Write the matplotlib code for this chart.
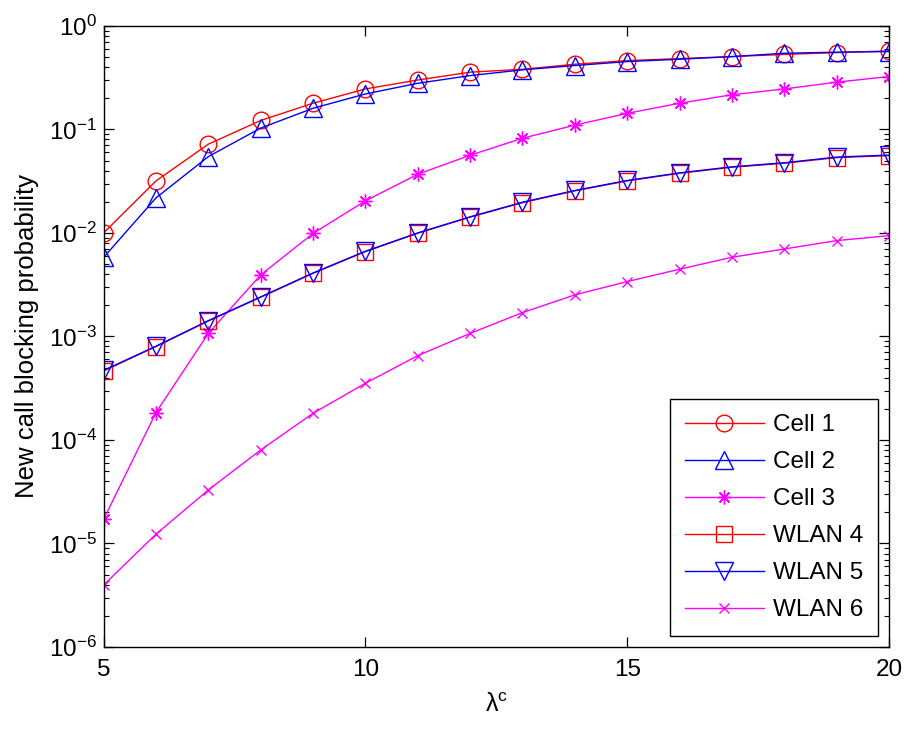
"""New call blocking probability vs. arrival rate for cells and WLANs."""

import matplotlib

matplotlib.use("Agg")
import matplotlib.pyplot as plt
import numpy as np
from matplotlib.ticker import FixedLocator, LogLocator, NullFormatter, NullLocator

plt.rcParams["font.family"] = ["Liberation Sans", "DejaVu Sans"]
plt.rcParams["mathtext.default"] = "regular"

lam = np.arange(5, 21)

cell1 = [0.0100, 0.0318, 0.0720, 0.122, 0.179, 0.246, 0.300, 0.357,
         0.381, 0.426, 0.462, 0.483, 0.505, 0.530, 0.552, 0.573]
cell2 = [0.0058, 0.0218, 0.0546, 0.103, 0.160, 0.220, 0.279, 0.331,
         0.376, 0.414, 0.452, 0.476, 0.505, 0.544, 0.557, 0.565]
cell3 = [1.71e-5, 1.84e-4, 1.07e-3, 3.93e-3, 9.9e-3, 0.0204, 0.0369, 0.0563,
         0.0822, 0.110, 0.143, 0.179, 0.216, 0.246, 0.286, 0.324]
wlan4 = [4.64e-4, 7.98e-4, 1.41e-3, 2.39e-3, 4.07e-3, 6.6e-3, 9.93e-3, 0.0142,
         0.0196, 0.0255, 0.0318, 0.0377, 0.0431, 0.0471, 0.0534, 0.0558]
wlan5 = [4.70e-4, 8.05e-4, 1.42e-3, 2.41e-3, 4.10e-3, 6.65e-3, 1.0e-2, 0.0143,
         0.0198, 0.0257, 0.0321, 0.0380, 0.0435, 0.0476, 0.0540, 0.0565]
wlan6 = [3.97e-6, 1.23e-5, 3.29e-5, 8.0e-5, 1.81e-4, 3.53e-4, 6.53e-4, 1.07e-3,
         1.70e-3, 2.52e-3, 3.39e-3, 4.46e-3, 5.82e-3, 7.0e-3, 8.43e-3, 9.41e-3]

labels = ["Cell 1", "Cell 2", "Cell 3", "WLAN 4", "WLAN 5", "WLAN 6"]
series = [cell1, cell2, cell3, wlan4, wlan5, wlan6]
colors = ["#ff0000", "#0000ff", "#ff00ff", "#ff0000", "#0000ff", "#ff00ff"]
markers = ["o", "^", (8, 2, 0), "s", "v", "x"]
msizes = [12, 13, 10, 12, 13, 7.5]

fig = plt.figure(figsize=(9.09, 7.29), dpi=100)
ax = fig.add_axes([0.114, 0.1125, 0.864, 0.852])

for y, lab, c, m, ms in zip(series, labels, colors, markers, msizes):
    ax.semilogy(lam, y, color=c, marker=m, markersize=ms, markerfacecolor="none",
                markeredgecolor=c, markeredgewidth=1.0, linewidth=1.0, label=lab)

ax.set_xlim(5, 20)
ax.set_ylim(1e-6, 1)
ax.xaxis.set_major_locator(FixedLocator([5, 10, 15, 20]))
ax.xaxis.set_minor_locator(NullLocator())
ax.yaxis.set_major_locator(LogLocator(base=10, numticks=10))
ax.yaxis.set_minor_locator(LogLocator(base=10, subs=np.arange(2, 10), numticks=20))
ax.yaxis.set_minor_formatter(NullFormatter())
ax.tick_params(which="both", direction="in", top=True, right=True, labelsize=17.5)
ax.tick_params(which="major", length=7, width=0.9)
ax.tick_params(which="minor", length=3.5, width=0.8)
ax.tick_params(axis="x", pad=9)
ax.tick_params(axis="y", pad=5)
for s in ax.spines.values():
    s.set_linewidth(1.0)

ax.set_xlabel(r"$\lambda^c$", fontsize=18, labelpad=8)
ax.set_ylabel("New call blocking probability", fontsize=18.5, labelpad=7)

leg = ax.legend(loc="lower right", fontsize=17.5, frameon=True, fancybox=False,
                edgecolor="black", framealpha=1, handlelength=3.25,
                handletextpad=0.4, borderaxespad=0.45, labelspacing=0.62,
                borderpad=0.6)
leg.get_frame().set_linewidth(1.0)

fig.savefig("out.png", dpi=100)
